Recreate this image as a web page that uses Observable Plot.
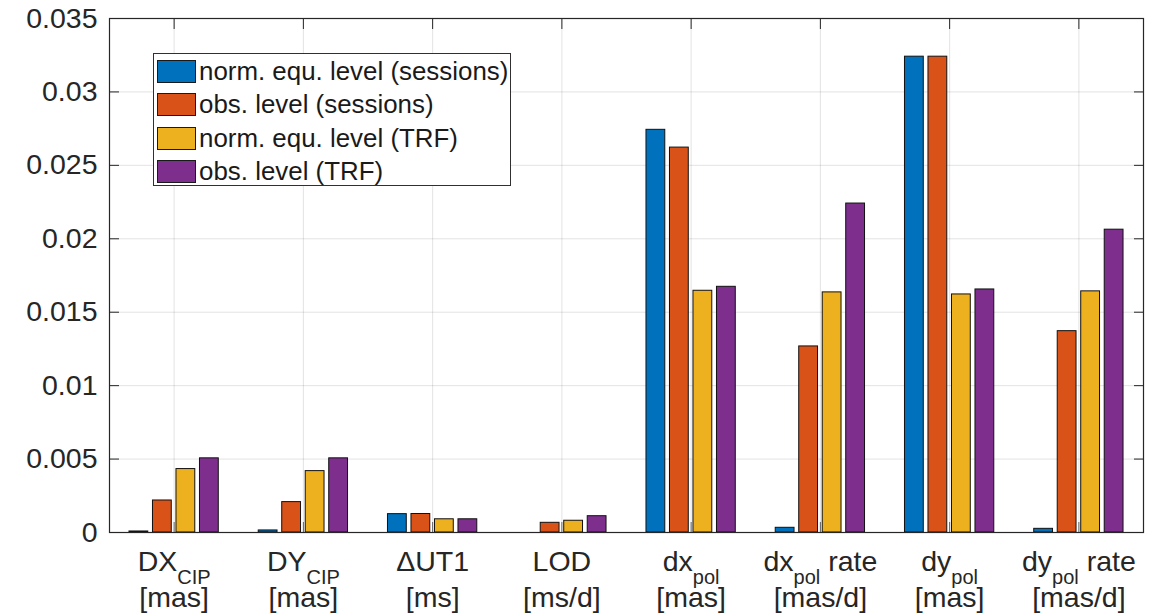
<!DOCTYPE html>
<html>
<head>
<meta charset="utf-8">
<script src="https://cdn.jsdelivr.net/npm/d3@7"></script>
<script src="https://cdn.jsdelivr.net/npm/@observablehq/plot@0.6"></script>
<style>
  html, body { margin: 0; padding: 0; background: #fff; }
  #wrap { position: relative; width: 1154px; height: 614px; font-family: "Liberation Sans", Arial, Helvetica, sans-serif; }
  #legend { position: absolute; left: 153px; top: 53px; width: 358px; height: 133px; border: 1px solid #303030; background: #fff; box-sizing: border-box; }
  .row { position: absolute; left: 3px; height: 23px; display: flex; align-items: center; }
  .sw { width: 39px; height: 23px; border: 1px solid #1a1a1a; box-sizing: border-box; margin-right: 3px; }
  .lab { font-size: 25.9px; color: #1a1a1a; white-space: nowrap; line-height: 23px; }
</style>
</head>
<body>
<div id="wrap"></div>
<script>
// ---- data ----
const categories = ["DX_CIP", "DY_CIP", "ΔUT1", "LOD", "dx_pol", "dx_pol rate", "dy_pol", "dy_pol rate"];
const labelMain   = ["DX", "DY", "ΔUT1", "LOD", "dx", "dx", "dy", "dy"];
const labelSub    = ["CIP", "CIP", "", "", "pol", "pol", "pol", "pol"];
const labelSuffix = ["", "", "", "", "", "rate", "", "rate"];
const labelUnit   = ["[mas]", "[mas]", "[ms]", "[ms/d]", "[mas]", "[mas/d]", "[mas]", "[mas/d]"];

const seriesNames = ["norm. equ. level (sessions)", "obs. level (sessions)", "norm. equ. level (TRF)", "obs. level (TRF)"];
const seriesColors = ["#0072BD", "#D95319", "#EDB120", "#7E2F8E"];

const normEquSessions = [0.00007, 0.00014, 0.00125, 0.0, 0.02742, 0.00032, 0.0324, 0.00025];
const obsSessions     = [0.00218, 0.00207, 0.00126, 0.00066, 0.02621, 0.01267, 0.0324, 0.01371];
const normEquTRF      = [0.00432, 0.00418, 0.00090, 0.00080, 0.01646, 0.01635, 0.01621, 0.01642];
const obsTRF          = [0.00505, 0.00505, 0.00090, 0.00111, 0.01673, 0.02240, 0.01655, 0.02062];

const yTicks = [0, 0.005, 0.01, 0.015, 0.02, 0.025, 0.03, 0.035];
const yTickLabels = ["0", "0.005", "0.01", "0.015", "0.02", "0.025", "0.03", "0.035"];

// ---- grouped bar layout (MATLAB rule) ----
const allSeries = [normEquSessions, obsSessions, normEquTRF, obsTRF];
const nS = allSeries.length;
const groupWidth = Math.min(0.8, nS / (nS + 1.5));
const pitch = groupWidth / nS;
const barW = pitch * 0.8;
const catIdx = categories.map((_, i) => i + 1);

const rows = [];
allSeries.forEach((vals, s) => {
  vals.forEach((v, i) => {
    const c = catIdx[i] + (s - (nS - 1) / 2) * pitch;
    rows.push({cat: categories[i], series: seriesNames[s], x1: c - barW / 2, x2: c + barW / 2, value: v});
  });
});

const ink = "#262626";
const chart = Plot.plot({
  width: 1154,
  height: 614,
  marginLeft: 109,
  marginRight: 11,
  marginTop: 18,
  marginBottom: 82,
  style: {fontFamily: '"Liberation Sans", Arial, Helvetica, sans-serif', fontSize: "28px", color: ink, background: "#fff"},
  x: {type: "linear", domain: [0.5, catIdx.length + 0.5], label: null},
  y: {domain: [0, 0.035], label: null},
  color: {domain: seriesNames, range: seriesColors},
  marks: [
    Plot.gridY(yTicks, {stroke: "#262626", strokeOpacity: 0.13, strokeWidth: 1}),
    Plot.gridX(catIdx, {stroke: "#262626", strokeOpacity: 0.13, strokeWidth: 1}),
    Plot.axisX(catIdx, {anchor: "bottom", label: null, tickSize: -10, tickFormat: () => "", stroke: ink, strokeOpacity: 0.7}),
    Plot.axisX(catIdx, {anchor: "top", label: null, tickSize: -10, tickFormat: () => "", stroke: ink}),
    Plot.rectY(rows, {x1: "x1", x2: "x2", y: "value", fill: "series", stroke: "#111", strokeWidth: 1}),
    Plot.axisY(yTicks, {anchor: "left", label: null, tickSize: -10, tickPadding: 22, tickFormat: (d) => yTickLabels[yTicks.indexOf(d)], stroke: ink, fill: ink, fontSize: 28.5}),
    Plot.axisY(yTicks, {anchor: "right", label: null, tickSize: -10, tickFormat: () => "", stroke: ink}),
    Plot.axisX(catIdx, {anchor: "bottom", label: null, tickSize: 0, tickPadding: 0, tickFormat: (d) => categories[d - 1], fill: ink, fontSize: 28.5}),
    Plot.frame({stroke: ink, strokeWidth: 1.2})
  ]
});

// rebuild x tick labels with subscripts and a second line
const xLabelGroups = d3.select(chart).selectAll('g[aria-label="x-axis tick label"]');
const lastGroup = xLabelGroups.nodes()[xLabelGroups.size() - 1];
d3.select(lastGroup).selectAll("text").each(function() {
  const t = d3.select(this);
  const label = t.text();
  const i = categories.indexOf(label);
  if (i < 0) return;
  t.text(null).attr("y", null).attr("dy", null).attr("text-anchor", "middle");
  t.append("tspan").attr("x", 0).attr("y", 38).text(labelMain[i]);
  if (labelSub[i]) t.append("tspan").attr("dy", 13).attr("font-size", 20).text(labelSub[i]);
  if (labelSuffix[i]) t.append("tspan").attr("dy", -13).text("\u00a0" + labelSuffix[i]);
  t.append("tspan").attr("x", 0).attr("y", 74).text(labelUnit[i]);
});

const wrap = document.getElementById("wrap");
wrap.appendChild(chart);

// legend inside the axes
const legend = document.createElement("div");
legend.id = "legend";
seriesNames.forEach((name, s) => {
  const row = document.createElement("div");
  row.className = "row";
  row.style.top = (6 + s * 33.3) + "px";
  const sw = document.createElement("div");
  sw.className = "sw";
  sw.style.background = seriesColors[s];
  const lab = document.createElement("span");
  lab.className = "lab";
  lab.textContent = name;
  row.appendChild(sw);
  row.appendChild(lab);
  legend.appendChild(row);
});
wrap.appendChild(legend);
</script>
</body>
</html>
